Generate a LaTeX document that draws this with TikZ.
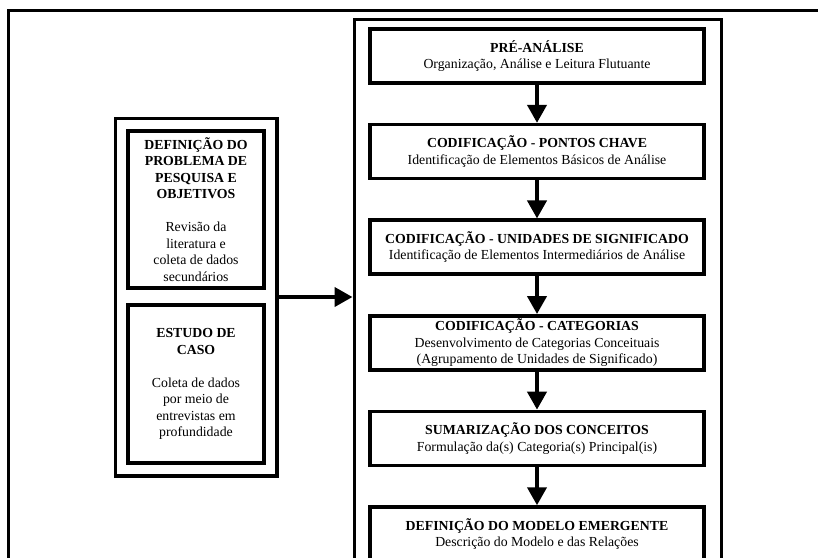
\documentclass[tikz,border=0pt]{standalone}
\usepackage{fontspec}
\setmainfont{Liberation Serif}
\usetikzlibrary{positioning,fit,arrows.meta}

\begin{document}
\begin{tikzpicture}[x=1pt, y=-1pt, >={Triangle[width=19pt,length=18pt]},
		every box/.style={draw, line width=3.5pt, align=center, inner sep=0pt,
			font=\fontsize{13.8}{16.5}\selectfont},
		step box/.style={every box, minimum width=334pt, minimum height=54pt},
		side box/.style={every box, minimum width=136pt},
		flow/.style={line width=4pt}]
		
		\useasboundingbox (0,0) rectangle (818,557);
		\clip (0,0) rectangle (818,557);
		
		% moldura externa
		\draw [line width=3pt] (8,10) rectangle (840,600);
		
		% etapas da analise
		\node [draw, line width=3pt, minimum width=367pt, minimum height=554pt, inner sep=0pt] (process) at (537.5,296) {};
		
		\foreach \t/\d [count=\i] in {
			{PRÉ-ANÁLISE}/{Organização, Análise e Leitura Flutuante},
			{CODIFICAÇÃO - PONTOS CHAVE}/{Identificação de Elementos Básicos de Análise},
			{CODIFICAÇÃO - UNIDADES DE SIGNIFICADO}/{Identificação de Elementos Intermediários de Análise},
			{CODIFICAÇÃO - CATEGORIAS}/{Desenvolvimento de Categorias Conceituais\\(Agrupamento de Unidades de Significado)},
			{SUMARIZAÇÃO DOS CONCEITOS}/{Formulação da(s) Categoria(s) Principal(is)},
			{DEFINIÇÃO DO MODELO EMERGENTE}/{Descrição do Modelo e das Relações}}
		\node [step box] (step-\i) at (537,{56+95.6*(\i-1)}) {\textbf{\t}\\\d};
		
		\foreach \i/\j in {1/2,2/3,3/4,4/5,5/6}
		\draw [flow, ->] (step-\i.south) -- (step-\j.north);
		
		% entradas
		\node [side box, minimum height=157pt] (problem) at (196,209.5)
		{\textbf{DEFINIÇÃO DO}\\\textbf{PROBLEMA DE}\\\textbf{PESQUISA E}\\\textbf{OBJETIVOS}\\[16.5pt]
			Revisão da\\literatura e\\coleta de dados\\secundários};
		\node [side box, minimum height=158pt] (case) at (196,384)
		{\textbf{ESTUDO DE}\\\textbf{CASO}\\[16.5pt]
			Coleta de dados\\por meio de\\entrevistas em\\profundidade};
		
		\node [draw, line width=3.5pt, inner sep=11pt, fit=(problem) (case)] (sources) {};
		
		\draw [flow, ->] (sources.east) -- (sources.east -| process.west);
		
		\end{tikzpicture}
\end{document}
